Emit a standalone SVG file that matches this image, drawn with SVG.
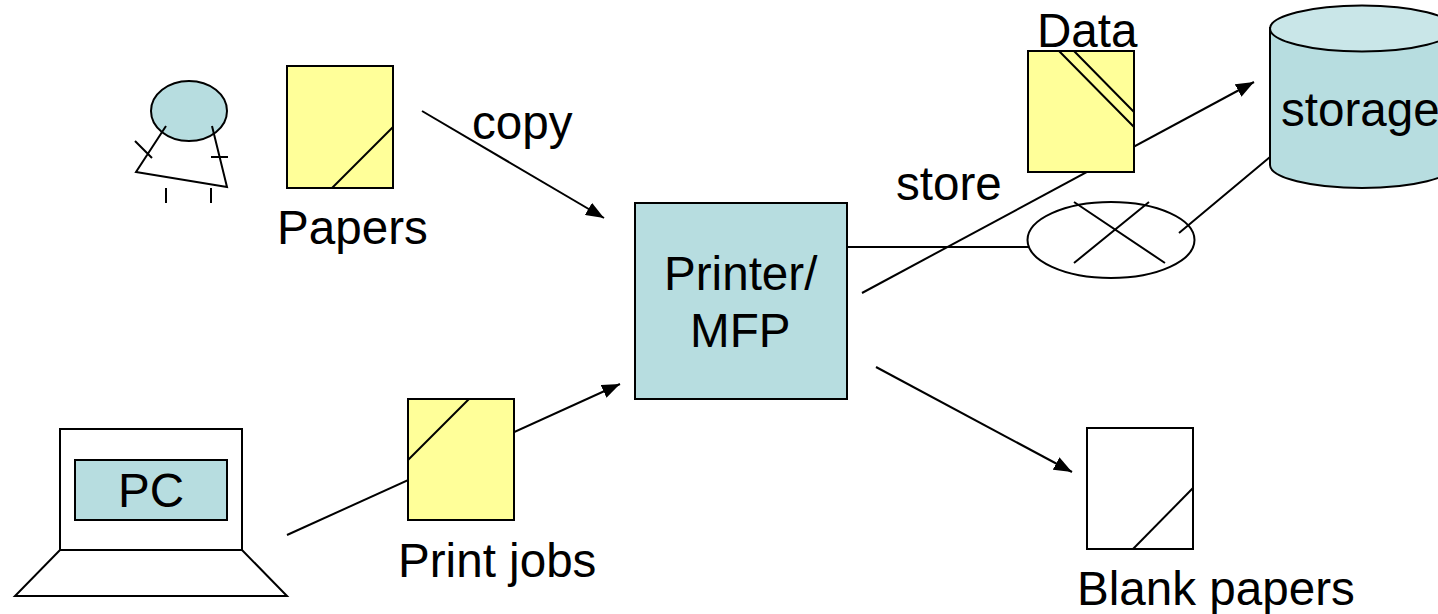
<svg xmlns="http://www.w3.org/2000/svg" width="1438" height="614" viewBox="0 0 1438 614">
<style>
.s{stroke:#000;stroke-width:2;fill:none}
.y{fill:#ffff99;stroke:#000;stroke-width:2}
.b{fill:#b7dde0;stroke:#000;stroke-width:2}
.t{fill:#c9e6e8;stroke:#000;stroke-width:2}
.w{fill:#fff;stroke:#000;stroke-width:2}
text{font-family:"Liberation Sans",Arial,sans-serif;font-size:47.6px;fill:#000}
</style>
<defs><marker id="a" markerUnits="userSpaceOnUse" markerWidth="18" markerHeight="14" refX="18" refY="7" orient="auto"><path d="M0 0L18 7L0 14z" fill="#000"/></marker></defs>
<rect width="1438" height="614" fill="#fff"/>
<g id="connectors">
<path class="s" d="M422 111L604 218" marker-end="url(#a)"/>
<path class="s" d="M287 535L620 384" marker-end="url(#a)"/>
<path class="s" d="M862 293L1254 82" marker-end="url(#a)"/>
<path class="s" d="M876 367L1072 472" marker-end="url(#a)"/>
<path class="s" d="M847 247H1029"/>
</g>
<g id="person">
<ellipse class="b" cx="189" cy="111" rx="38" ry="30"/>
<path class="s" d="M166 126L136 172L227 187L212 126M135 141L152 158M211 157H228M166 188V203M211 188V203"/>
</g>
<g id="papers"><rect class="y" x="287" y="66" width="106" height="122"/><path class="s" d="M332 188L393 127"/><text x="277" y="244">Papers</text></g>
<g id="printjobs"><rect class="y" x="408" y="399" width="106" height="121"/><path class="s" d="M408 460L469 399"/><text x="398" y="577">Print jobs</text></g>
<g id="pc"><rect class="w" x="60" y="429" width="182" height="121"/><rect class="b" x="75" y="460" width="152" height="60"/><path class="w" d="M60 550H242L287 596H15z"/><text x="118" y="507">PC</text></g>
<g id="printer"><rect class="b" x="635" y="203" width="212" height="196"/><text x="664" y="290">Printer/</text><text x="690" y="347">MFP</text></g>
<g id="data"><rect class="y" x="1028" y="51" width="106" height="121"/><path class="s" d="M1059 51L1134 127M1074 51L1134 112"/><text x="1037" y="47">Data</text></g>
<text x="896" y="200">store</text>
<text x="472" y="139">copy</text>
<g id="storage"><path class="b" d="M1270 28V165A92 23 0 0 0 1454 165V28z"/><ellipse class="t" cx="1362" cy="28.500" rx="92" ry="23"/><text x="1281" y="126">storage</text></g>
<g id="switch"><ellipse class="w" cx="1111" cy="240" rx="83.500" ry="38"/><path class="s" d="M1074 202L1165 263M1074 263L1149 202M1179 233L1270 157"/></g>
<g id="blank"><rect class="w" x="1087" y="428" width="106" height="121"/><path class="s" d="M1133 549L1193 488"/><text x="1077" y="605">Blank papers</text></g>
</svg>
